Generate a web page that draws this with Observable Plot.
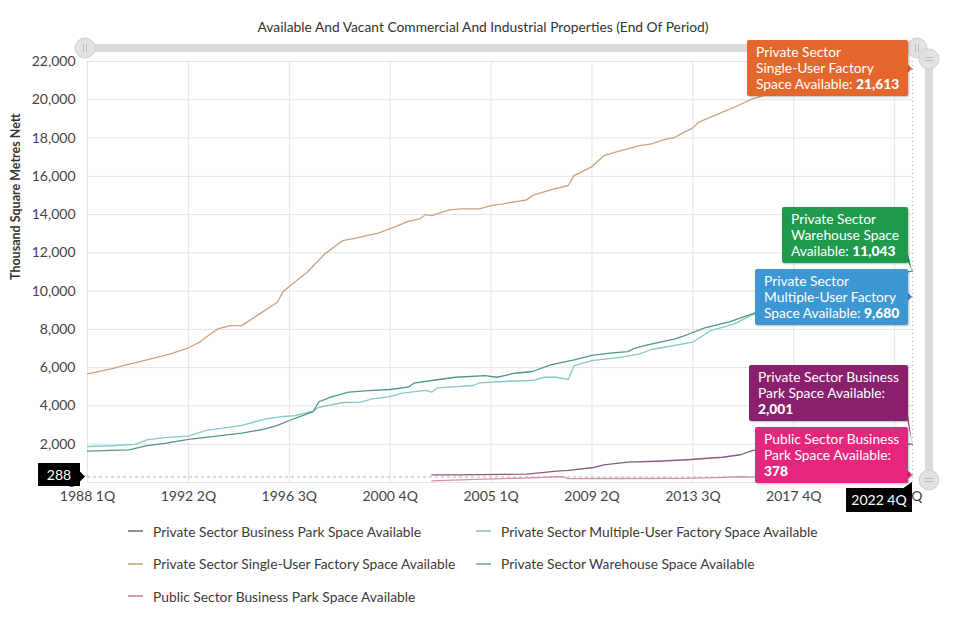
<!DOCTYPE html>
<html>
<head>
<meta charset="utf-8">
<script src="https://cdn.jsdelivr.net/npm/d3@7"></script>
<script src="https://cdn.jsdelivr.net/npm/@observablehq/plot@0.6"></script>
<style>
  html, body { margin: 0; padding: 0; background: #fff; }
  #wrap { position: relative; width: 960px; height: 632px; font-family: Lato, "Open Sans", sans-serif; overflow: hidden; }
  #title { height: 40px; box-sizing: border-box; padding-top: 19px; line-height: 16px; font-size: 13.8px; color: #333; text-align: center; width: 966px; }
  #chart { height: 472px; }
  #legend { display: grid; grid-template-columns: 348px auto; padding-left: 128px; margin-top: 3px; }
  .li { display: flex; align-items: center; height: 32.5px; font-size: 13.8px; color: #3a3a3a; white-space: nowrap; }
  .sw { width: 15px; height: 2px; margin-right: 10px; }
  .tip { position: absolute; color: #fff; font-size: 13.8px; line-height: 16px; padding: 4px 9px 4px 9px; white-space: nowrap; border-radius: 2px; box-shadow: 1px 1px 2px rgba(0,0,0,0.25); }
  .tip b { font-weight: 900; }
  .cross { position: absolute; background: #000; color: #fff; font-size: 14px; line-height: 23px; height: 23px; text-align: center; }
  #chrome { position: absolute; left: 0; top: 0; pointer-events: none; }
</style>
</head>
<body>
<div id="wrap">
  <div id="title">Available And Vacant Commercial And Industrial Properties (End Of Period)</div>
  <div id="chart"></div>
  <div id="legend"></div>
</div>
<script>
// ---------- DATA ----------
const xTickLabels = ["1988 1Q","1992 2Q","1996 3Q","2000 4Q","2005 1Q","2009 2Q","2013 3Q","2017 4Q","2022 1Q"];
const yTickValues = [0,2000,4000,6000,8000,10000,12000,14000,16000,18000,20000,22000];
const yLabel = "Thousand Square Metres Nett";
const crosshairValue = 288;
const crosshairQuarter = "2022 4Q";

const singleUserQ = ["1988 1Q","1989 1Q","1989 3Q","1990 3Q","1991 3Q","1992 2Q","1992 4Q","1993 1Q","1993 3Q","1994 1Q","1994 3Q","1995 2Q","1996 1Q","1996 2Q","1997 2Q","1998 1Q","1998 4Q","1999 2Q","2000 2Q","2001 1Q","2001 3Q","2002 1Q","2002 2Q","2002 3Q","2003 2Q","2003 4Q","2004 3Q","2005 1Q","2005 3Q","2006 3Q","2006 4Q","2007 3Q","2008 2Q","2008 3Q","2009 2Q","2009 4Q","2010 3Q","2011 2Q","2011 4Q","2012 2Q","2012 4Q","2013 1Q","2013 3Q","2013 4Q","2014 4Q","2015 2Q","2016 1Q","2017 1Q","2018 1Q","2019 2Q","2020 3Q","2021 4Q","2022 4Q"];
const singleUserV = [5680,5940,6110,6410,6720,7040,7350,7600,8030,8200,8200,8810,9420,10000,10990,11950,12640,12760,13030,13380,13650,13780,14000,13950,14250,14300,14300,14470,14560,14770,15000,15290,15520,16040,16510,17080,17350,17600,17700,17900,18040,18220,18530,18830,19350,19610,20050,20400,20750,21000,21250,21450,21613];

const warehouseQ = ["1988 1Q","1989 1Q","1989 4Q","1990 3Q","1991 2Q","1992 2Q","1993 2Q","1994 3Q","1995 3Q","1996 1Q","1996 3Q","1997 2Q","1997 3Q","1997 4Q","1998 2Q","1999 1Q","2000 1Q","2000 4Q","2001 3Q","2001 4Q","2002 3Q","2003 3Q","2004 4Q","2005 2Q","2006 1Q","2006 4Q","2007 3Q","2008 3Q","2009 2Q","2010 1Q","2010 4Q","2011 1Q","2011 3Q","2012 4Q","2013 2Q","2014 1Q","2015 1Q","2016 1Q","2017 1Q","2018 1Q","2019 2Q","2020 3Q","2021 4Q","2022 4Q"];
const warehouseV = [1640,1680,1710,1930,2050,2250,2400,2580,2800,2980,3240,3590,3700,4220,4460,4720,4810,4860,4980,5190,5330,5500,5590,5500,5710,5800,6150,6410,6640,6760,6840,6990,7160,7510,7720,8080,8380,8810,9300,9800,10200,10600,10850,11043];

const multiUserQ = ["1988 1Q","1989 1Q","1990 1Q","1990 3Q","1991 2Q","1992 2Q","1993 1Q","1994 1Q","1994 3Q","1995 3Q","1996 2Q","1996 4Q","1997 3Q","1997 4Q","1998 4Q","1999 3Q","2000 1Q","2000 4Q","2001 2Q","2002 2Q","2002 3Q","2002 4Q","2004 2Q","2004 3Q","2005 4Q","2006 4Q","2007 2Q","2007 4Q","2008 2Q","2008 3Q","2009 2Q","2010 3Q","2011 2Q","2011 4Q","2013 3Q","2014 2Q","2015 2Q","2016 1Q","2017 1Q","2018 1Q","2019 2Q","2020 3Q","2021 4Q","2022 4Q"];
const multiUserV = [1880,1920,1990,2230,2340,2420,2720,2890,2980,3330,3450,3500,3730,3930,4180,4200,4370,4490,4670,4810,4720,4950,5070,5210,5290,5330,5500,5500,5380,6110,6370,6550,6720,6950,7330,7940,8290,8760,9000,9200,9350,9500,9600,9680];

const privateParkQ = ["2002 3Q","2003 3Q","2004 3Q","2005 3Q","2006 3Q","2007 2Q","2007 4Q","2008 2Q","2009 2Q","2009 4Q","2010 4Q","2012 1Q","2013 2Q","2014 4Q","2015 3Q","2016 1Q","2017 1Q","2018 1Q","2019 2Q","2020 3Q","2021 4Q","2022 4Q"];
const privateParkV = [400,400,410,420,440,530,590,630,770,920,1060,1110,1190,1320,1450,1670,1850,1950,2000,1980,2020,2001];

const publicParkQ = ["2002 3Q","2004 1Q","2005 3Q","2007 1Q","2007 4Q","2008 1Q","2008 2Q","2010 3Q","2013 1Q","2014 3Q","2015 3Q","2016 1Q","2018 1Q","2020 3Q","2022 4Q"];
const publicParkV = [90,150,200,260,300,310,200,210,220,260,300,280,300,350,378];

// ---------- helpers ----------
const parseQ = s => { const [y, q] = s.split(" "); return (+y - 1988) * 4 + (parseInt(q) - 1); };
const toRows = (qs, vs) => qs.map((q, i) => ({x: parseQ(q), y: vs[i]}));
const fmt = d3.format(",");

const series = [
  {name: "Private Sector Business Park Space Available", q: privateParkQ, v: privateParkV, color: "#8a5a86", legend: "#9c8aa2", tip: "#8a1f6e", lines: ["Private Sector Business", "Park Space Available:"], valueOwnLine: true},
  {name: "Private Sector Multiple-User Factory Space Available", q: multiUserQ, v: multiUserV, color: "#84c8cc", legend: "#a9cbd8", tip: "#3c97d3", lines: ["Private Sector", "Multiple-User Factory", "Space Available: "]},
  {name: "Private Sector Single-User Factory Space Available", q: singleUserQ, v: singleUserV, color: "#cfa17e", legend: "#d3b89c", tip: "#e4672d", lines: ["Private Sector", "Single-User Factory", "Space Available: "]},
  {name: "Private Sector Warehouse Space Available", q: warehouseQ, v: warehouseV, color: "#4f9785", legend: "#8fbcae", tip: "#1f9a4c", lines: ["Private Sector", "Warehouse Space", "Available: "]},
  {name: "Public Sector Business Park Space Available", q: publicParkQ, v: publicParkV, color: "#d58fae", legend: "#c9a2b3", tip: "#e5267c", lines: ["Public Sector Business", "Park Space Available:"], valueOwnLine: true}
];

const xTickIdx = xTickLabels.map(parseQ);
const labelByIdx = new Map(xTickLabels.map(l => [parseQ(l), l]));
const lastIdx = parseQ(crosshairQuarter);

// ---------- chart ----------
const chart = Plot.plot({
  width: 960,
  height: 472,
  marginTop: 21,
  marginBottom: 30,
  marginLeft: 87,
  marginRight: 48,
  style: {fontFamily: "Lato, 'Open Sans', sans-serif", fontSize: "14px", color: "#444", background: "transparent", overflow: "visible"},
  x: {domain: [0, lastIdx], label: null},
  y: {domain: [0, 22000], label: null},
  marks: [
    Plot.gridY(yTickValues, {stroke: "#e4e4e4", strokeOpacity: 1}),
    Plot.gridX(xTickIdx, {stroke: "#e4e4e4", strokeOpacity: 1}),
    Plot.axisY(yTickValues, {tickSize: 0, tickPadding: 12, tickFormat: fmt, fontSize: 14, fill: "#444", label: null}),
    Plot.axisX(xTickIdx, {tickSize: 0, tickPadding: 9, tickFormat: i => labelByIdx.get(i), fontSize: 14, fill: "#444", label: null}),
    Plot.ruleY([crosshairValue], {stroke: "#b5b5b5", strokeDasharray: "3,3"}),
    Plot.ruleX([lastIdx], {stroke: "#b5b5b5", strokeDasharray: "1,3"}),
    ...series.map(s => Plot.line(toRows(s.q, s.v), {x: "x", y: "y", stroke: s.color, strokeWidth: 1.3})),
    Plot.text([yLabel], {frameAnchor: "left", dx: -72, dy: 8, rotate: -90, fontWeight: "bold", fontSize: 12.5, fill: "#333"})
  ]
});
document.getElementById("chart").appendChild(chart);

// ---------- legend ----------
const legend = document.getElementById("legend");
for (const s of series) {
  const d = document.createElement("div");
  d.className = "li";
  d.innerHTML = `<span class="sw" style="background:${s.legend}"></span>${s.name}`;
  legend.appendChild(d);
}

// ---------- overlays (tooltips, crosshair labels, navigator bars) ----------
const wrap = document.getElementById("wrap");
const top0 = 40;
const xs = chart.scale("x"), ys = chart.scale("y");
const left = xs.apply(0), right = xs.apply(lastIdx);
const pTop = ys.apply(22000) + top0, pBot = ys.apply(0) + top0;

const NS = "http://www.w3.org/2000/svg";
const svg = document.createElementNS(NS, "svg");
svg.setAttribute("id", "chrome");
svg.setAttribute("width", 960);
svg.setAttribute("height", 632);
wrap.appendChild(svg);
const add = (tag, attrs) => { const e = document.createElementNS(NS, tag); for (const k in attrs) e.setAttribute(k, attrs[k]); svg.appendChild(e); return e; };

// navigator bars
add("rect", {x: left - 2, y: pTop - 17, width: right - left + 8, height: 8, fill: "#dadada"});
add("rect", {x: right + 13, y: pTop - 2, width: 8, height: pBot - pTop + 2, fill: "#dadada"});
const handle = (cx, cy, vertical) => {
  add("circle", {cx, cy, r: 10, fill: "#e2e2e2", stroke: "#d0d0d0"});
  if (vertical) {
    add("line", {x1: cx - 4, x2: cx + 4, y1: cy - 1.5, y2: cy - 1.5, stroke: "#bdbdbd"});
    add("line", {x1: cx - 4, x2: cx + 4, y1: cy + 1.5, y2: cy + 1.5, stroke: "#bdbdbd"});
  } else {
    add("line", {x1: cx - 1.5, x2: cx - 1.5, y1: cy - 4, y2: cy + 4, stroke: "#bdbdbd"});
    add("line", {x1: cx + 1.5, x2: cx + 1.5, y1: cy - 4, y2: cy + 4, stroke: "#bdbdbd"});
  }
};
handle(left - 2, pTop - 13, false);
handle(right + 5, pTop - 13, false);
handle(right + 17, pTop - 2, true);
handle(right + 17, pBot - 2, true);

// tooltips
const boxes = series.map(s => {
  const last = s.v[s.v.length - 1];
  const d = document.createElement("div");
  d.className = "tip";
  d.style.background = s.tip;
  const html = s.valueOwnLine
    ? s.lines.join("<br>") + `<br><b>${fmt(last)}</b>`
    : s.lines.slice(0, -1).join("<br>") + "<br>" + s.lines[s.lines.length - 1] + `<b>${fmt(last)}</b>`;
  d.innerHTML = html;
  wrap.appendChild(d);
  const w = d.offsetWidth, h = d.offsetHeight;
  return {d, w, h, color: s.tip, ay: ys.apply(last) + top0, ax: right};
});
// distribute vertically (bottom-up), like a split tooltip
const sorted = boxes.slice().sort((a, b) => b.ay - a.ay);
let limit = pBot + 1;
for (const b of sorted) {
  b.top = Math.min(b.ay - b.h / 2, limit - b.h);
  limit = b.top - 6;
}
for (const b of boxes) {
  const bl = b.ax - 4 - b.w;
  b.d.style.left = bl + "px";
  b.d.style.top = b.top + "px";
  const br = b.ax - 4;
  const py = Math.max(b.top + 3, Math.min(b.top + b.h - 13, b.ay - 5));
  add("path", {d: `M${br - 1},${py} L${b.ax},${b.ay} L${br - 1},${py + 10} Z`, fill: b.color});
}

// crosshair labels
const yl = document.createElement("div");
yl.className = "cross";
yl.textContent = fmt(crosshairValue);
const yv = ys.apply(crosshairValue) + top0;
yl.style.left = (left - 49) + "px"; yl.style.width = "42px";
yl.style.top = (yv - 13) + "px";
wrap.appendChild(yl);
add("path", {d: `M${left - 7},${yv - 5} L${left - 2},${yv} L${left - 7},${yv + 5} Z`, fill: "#000"});

const xl = document.createElement("div");
xl.className = "cross";
xl.textContent = crosshairQuarter;
xl.style.left = (right - 66) + "px"; xl.style.width = "66px";
xl.style.top = (pBot + 6) + "px"; xl.style.height = "24px"; xl.style.lineHeight = "24px";
wrap.appendChild(xl);
add("path", {d: `M${right - 10},${pBot + 7} L${right},${pBot} L${right},${pBot + 7} Z`, fill: "#000"});
</script>
</body>
</html>
